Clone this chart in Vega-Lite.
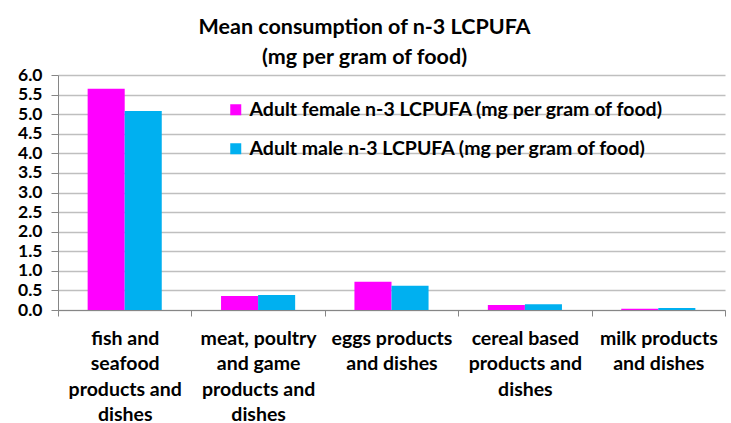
{
  "$schema": "https://vega.github.io/schema/vega-lite/v6.json",
  "autosize": {"type": "none"},
  "width": 667,
  "height": 235,
  "padding": {"left": 58, "top": 75, "right": 6, "bottom": 113},
  "background": "white",
  "config": {
    "font": "Lato",
    "view": {"stroke": null}
  },
  "title": {
    "text": ["Mean consumption of n-3 LCPUFA", "(mg per gram of food)"],
    "font": "Lato",
    "fontSize": 21.5,
    "fontWeight": "bold",
    "color": "black",
    "lineHeight": 30,
    "anchor": "middle",
    "dx": -27,
    "offset": -2
  },
  "data": {
    "values": [
      {"category": "fish and seafood products and dishes", "series": "Adult female n-3 LCPUFA (mg per gram of food)", "value": 5.65},
      {"category": "fish and seafood products and dishes", "series": "Adult male n-3 LCPUFA (mg per gram of food)", "value": 5.08},
      {"category": "meat, poultry and game products and dishes", "series": "Adult female n-3 LCPUFA (mg per gram of food)", "value": 0.36},
      {"category": "meat, poultry and game products and dishes", "series": "Adult male n-3 LCPUFA (mg per gram of food)", "value": 0.38},
      {"category": "eggs products and dishes", "series": "Adult female n-3 LCPUFA (mg per gram of food)", "value": 0.72},
      {"category": "eggs products and dishes", "series": "Adult male n-3 LCPUFA (mg per gram of food)", "value": 0.62},
      {"category": "cereal based products and dishes", "series": "Adult female n-3 LCPUFA (mg per gram of food)", "value": 0.13},
      {"category": "cereal based products and dishes", "series": "Adult male n-3 LCPUFA (mg per gram of food)", "value": 0.15},
      {"category": "milk products and dishes", "series": "Adult female n-3 LCPUFA (mg per gram of food)", "value": 0.03},
      {"category": "milk products and dishes", "series": "Adult male n-3 LCPUFA (mg per gram of food)", "value": 0.05}
    ]
  },
  "mark": {"type": "bar"},
  "encoding": {
    "x": {
      "field": "category",
      "type": "nominal",
      "sort": null,
      "scale": {"paddingInner": 0, "paddingOuter": 0},
      "axis": {
        "title": null,
        "labelAngle": 0,
        "labelFont": "Lato",
        "labelFontSize": 19.5,
        "labelFontWeight": "bold",
        "labelColor": "black",
        "labelLineHeight": 25.5,
        "labelPadding": 13,
        "labelLimit": 200,
        "labelOverlap": false,
        "tickBand": "extent",
        "tickSize": 6,
        "tickColor": "#868686",
        "domainColor": "#868686",
        "grid": false,
        "labelExpr": "datum.label == 'fish and seafood products and dishes' ? ['fish and', 'seafood', 'products and', 'dishes'] : datum.label == 'meat, poultry and game products and dishes' ? ['meat, poultry', 'and game', 'products and', 'dishes'] : datum.label == 'eggs products and dishes' ? ['eggs products', 'and dishes'] : datum.label == 'cereal based products and dishes' ? ['cereal based', 'products and', 'dishes'] : datum.label == 'milk products and dishes' ? ['milk products', 'and dishes'] : ''"
      }
    },
    "xOffset": {
      "field": "series",
      "type": "nominal",
      "scale": {"paddingInner": 0, "paddingOuter": 0.8}
    },
    "y": {
      "field": "value",
      "type": "quantitative",
      "scale": {"domain": [0, 6], "nice": false},
      "axis": {
        "title": null,
        "values": [0, 0.5, 1, 1.5, 2, 2.5, 3, 3.5, 4, 4.5, 5, 5.5, 6],
        "format": ".1f",
        "labelFont": "Lato",
        "labelFontSize": 17.5,
        "labelFontWeight": "bold",
        "labelColor": "black",
        "labelPadding": 9,
        "tickSize": 7,
        "tickColor": "#868686",
        "domainColor": "#868686",
        "gridColor": "#BFBFBF",
        "gridWidth": 1.3
      }
    },
    "color": {
      "field": "series",
      "type": "nominal",
      "scale": {
        "domain": ["Adult female n-3 LCPUFA (mg per gram of food)", "Adult male n-3 LCPUFA (mg per gram of food)"],
        "range": ["#FF00FF", "#00B0F0"]
      },
      "legend": {
        "title": null,
        "orient": "none",
        "legendX": 168,
        "legendY": 25,
        "symbolType": "square",
        "symbolSize": 121,
        "symbolStrokeWidth": 0,
        "labelFont": "Lato",
        "labelFontSize": 19.5,
        "labelFontWeight": "bold",
        "labelColor": "black",
        "labelLimit": 500,
        "labelOffset": 4,
        "rowPadding": 18
      }
    }
  }
}
